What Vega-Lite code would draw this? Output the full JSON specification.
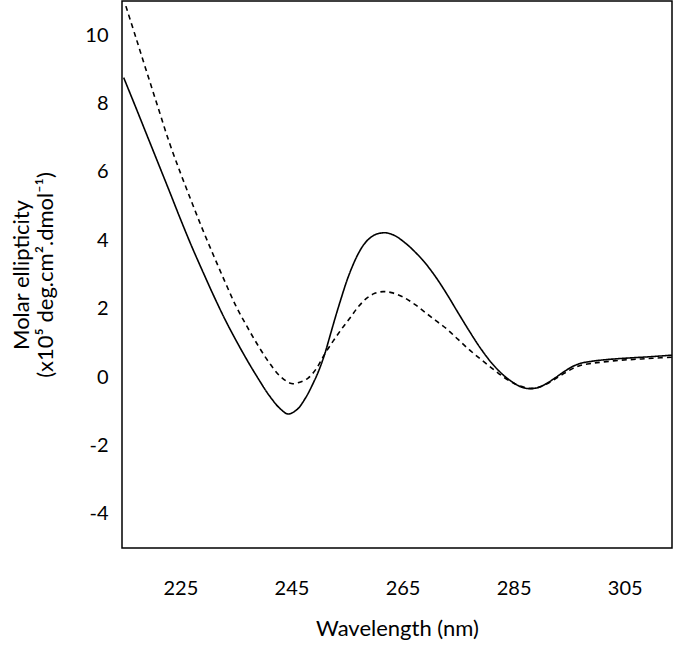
{
  "$schema": "https://vega.github.io/schema/vega-lite/v6.json",
  "width": 550,
  "height": 547,
  "autosize": "none",
  "padding": {"left": 122, "top": 1, "right": 5, "bottom": 100},
  "background": "white",
  "config": {
    "view": {"stroke": "#000000", "strokeWidth": 1.5},
    "font": "Lato",
    "axis": {"grid": false, "domain": false, "ticks": false, "labelColor": "#000000", "titleColor": "#000000", "labelFont": "Lato", "titleFont": "Lato", "labelFontSize": 20, "titleFontSize": 22, "titleFontWeight": "normal"}
  },
  "data": {"values": [
    {"wavelength": 214.8, "ellipticity": 8.76, "sample": "A"},
    {"wavelength": 217, "ellipticity": 7.88, "sample": "A"},
    {"wavelength": 219, "ellipticity": 7.07, "sample": "A"},
    {"wavelength": 221, "ellipticity": 6.26, "sample": "A"},
    {"wavelength": 223, "ellipticity": 5.45, "sample": "A"},
    {"wavelength": 225, "ellipticity": 4.63, "sample": "A"},
    {"wavelength": 227, "ellipticity": 3.84, "sample": "A"},
    {"wavelength": 229, "ellipticity": 3.1, "sample": "A"},
    {"wavelength": 231, "ellipticity": 2.38, "sample": "A"},
    {"wavelength": 233, "ellipticity": 1.7, "sample": "A"},
    {"wavelength": 235, "ellipticity": 1.08, "sample": "A"},
    {"wavelength": 237, "ellipticity": 0.5, "sample": "A"},
    {"wavelength": 239, "ellipticity": -0.04, "sample": "A"},
    {"wavelength": 241, "ellipticity": -0.54, "sample": "A"},
    {"wavelength": 243, "ellipticity": -0.93, "sample": "A"},
    {"wavelength": 244.4, "ellipticity": -1.08, "sample": "A"},
    {"wavelength": 246, "ellipticity": -0.95, "sample": "A"},
    {"wavelength": 247.5, "ellipticity": -0.62, "sample": "A"},
    {"wavelength": 249, "ellipticity": -0.15, "sample": "A"},
    {"wavelength": 250, "ellipticity": 0.22, "sample": "A"},
    {"wavelength": 251, "ellipticity": 0.68, "sample": "A"},
    {"wavelength": 252, "ellipticity": 1.24, "sample": "A"},
    {"wavelength": 253, "ellipticity": 1.8, "sample": "A"},
    {"wavelength": 254, "ellipticity": 2.33, "sample": "A"},
    {"wavelength": 255, "ellipticity": 2.83, "sample": "A"},
    {"wavelength": 256, "ellipticity": 3.25, "sample": "A"},
    {"wavelength": 257, "ellipticity": 3.6, "sample": "A"},
    {"wavelength": 258, "ellipticity": 3.87, "sample": "A"},
    {"wavelength": 259, "ellipticity": 4.05, "sample": "A"},
    {"wavelength": 260, "ellipticity": 4.16, "sample": "A"},
    {"wavelength": 261, "ellipticity": 4.21, "sample": "A"},
    {"wavelength": 262, "ellipticity": 4.22, "sample": "A"},
    {"wavelength": 263, "ellipticity": 4.18, "sample": "A"},
    {"wavelength": 264, "ellipticity": 4.1, "sample": "A"},
    {"wavelength": 265.5, "ellipticity": 3.92, "sample": "A"},
    {"wavelength": 267, "ellipticity": 3.7, "sample": "A"},
    {"wavelength": 269, "ellipticity": 3.35, "sample": "A"},
    {"wavelength": 271, "ellipticity": 2.92, "sample": "A"},
    {"wavelength": 273, "ellipticity": 2.42, "sample": "A"},
    {"wavelength": 275, "ellipticity": 1.88, "sample": "A"},
    {"wavelength": 277, "ellipticity": 1.35, "sample": "A"},
    {"wavelength": 279, "ellipticity": 0.85, "sample": "A"},
    {"wavelength": 281, "ellipticity": 0.42, "sample": "A"},
    {"wavelength": 283, "ellipticity": 0.08, "sample": "A"},
    {"wavelength": 285, "ellipticity": -0.17, "sample": "A"},
    {"wavelength": 286.5, "ellipticity": -0.3, "sample": "A"},
    {"wavelength": 288, "ellipticity": -0.34, "sample": "A"},
    {"wavelength": 289.5, "ellipticity": -0.3, "sample": "A"},
    {"wavelength": 291, "ellipticity": -0.18, "sample": "A"},
    {"wavelength": 292.5, "ellipticity": -0.02, "sample": "A"},
    {"wavelength": 294, "ellipticity": 0.15, "sample": "A"},
    {"wavelength": 295.5, "ellipticity": 0.3, "sample": "A"},
    {"wavelength": 297, "ellipticity": 0.4, "sample": "A"},
    {"wavelength": 299, "ellipticity": 0.46, "sample": "A"},
    {"wavelength": 301, "ellipticity": 0.5, "sample": "A"},
    {"wavelength": 304, "ellipticity": 0.54, "sample": "A"},
    {"wavelength": 307, "ellipticity": 0.57, "sample": "A"},
    {"wavelength": 310, "ellipticity": 0.6, "sample": "A"},
    {"wavelength": 313.5, "ellipticity": 0.64, "sample": "A"},
    {"wavelength": 215.2, "ellipticity": 10.85, "sample": "B"},
    {"wavelength": 217, "ellipticity": 9.93, "sample": "B"},
    {"wavelength": 219, "ellipticity": 8.9, "sample": "B"},
    {"wavelength": 221, "ellipticity": 7.88, "sample": "B"},
    {"wavelength": 223, "ellipticity": 6.87, "sample": "B"},
    {"wavelength": 225, "ellipticity": 5.98, "sample": "B"},
    {"wavelength": 227, "ellipticity": 5.14, "sample": "B"},
    {"wavelength": 229, "ellipticity": 4.32, "sample": "B"},
    {"wavelength": 231, "ellipticity": 3.55, "sample": "B"},
    {"wavelength": 233, "ellipticity": 2.8, "sample": "B"},
    {"wavelength": 235, "ellipticity": 2.08, "sample": "B"},
    {"wavelength": 237, "ellipticity": 1.48, "sample": "B"},
    {"wavelength": 239, "ellipticity": 0.92, "sample": "B"},
    {"wavelength": 241, "ellipticity": 0.42, "sample": "B"},
    {"wavelength": 243, "ellipticity": 0.02, "sample": "B"},
    {"wavelength": 245, "ellipticity": -0.19, "sample": "B"},
    {"wavelength": 246.5, "ellipticity": -0.15, "sample": "B"},
    {"wavelength": 248, "ellipticity": -0.03, "sample": "B"},
    {"wavelength": 249.5, "ellipticity": 0.25, "sample": "B"},
    {"wavelength": 251, "ellipticity": 0.68, "sample": "B"},
    {"wavelength": 252.5, "ellipticity": 1.05, "sample": "B"},
    {"wavelength": 254, "ellipticity": 1.4, "sample": "B"},
    {"wavelength": 255.5, "ellipticity": 1.72, "sample": "B"},
    {"wavelength": 257, "ellipticity": 2.05, "sample": "B"},
    {"wavelength": 258.5, "ellipticity": 2.3, "sample": "B"},
    {"wavelength": 260, "ellipticity": 2.45, "sample": "B"},
    {"wavelength": 261.5, "ellipticity": 2.5, "sample": "B"},
    {"wavelength": 263, "ellipticity": 2.47, "sample": "B"},
    {"wavelength": 265, "ellipticity": 2.35, "sample": "B"},
    {"wavelength": 267, "ellipticity": 2.15, "sample": "B"},
    {"wavelength": 269, "ellipticity": 1.9, "sample": "B"},
    {"wavelength": 271, "ellipticity": 1.65, "sample": "B"},
    {"wavelength": 273, "ellipticity": 1.4, "sample": "B"},
    {"wavelength": 275, "ellipticity": 1.1, "sample": "B"},
    {"wavelength": 277, "ellipticity": 0.8, "sample": "B"},
    {"wavelength": 279, "ellipticity": 0.53, "sample": "B"},
    {"wavelength": 281, "ellipticity": 0.27, "sample": "B"},
    {"wavelength": 283, "ellipticity": 0.02, "sample": "B"},
    {"wavelength": 285, "ellipticity": -0.18, "sample": "B"},
    {"wavelength": 286.5, "ellipticity": -0.28, "sample": "B"},
    {"wavelength": 288, "ellipticity": -0.33, "sample": "B"},
    {"wavelength": 289.5, "ellipticity": -0.3, "sample": "B"},
    {"wavelength": 291, "ellipticity": -0.2, "sample": "B"},
    {"wavelength": 292.5, "ellipticity": -0.05, "sample": "B"},
    {"wavelength": 294, "ellipticity": 0.1, "sample": "B"},
    {"wavelength": 295.5, "ellipticity": 0.24, "sample": "B"},
    {"wavelength": 297, "ellipticity": 0.34, "sample": "B"},
    {"wavelength": 299, "ellipticity": 0.4, "sample": "B"},
    {"wavelength": 301, "ellipticity": 0.44, "sample": "B"},
    {"wavelength": 304, "ellipticity": 0.49, "sample": "B"},
    {"wavelength": 307, "ellipticity": 0.52, "sample": "B"},
    {"wavelength": 310, "ellipticity": 0.55, "sample": "B"},
    {"wavelength": 313.5, "ellipticity": 0.58, "sample": "B"}
  ]},
  "mark": {"type": "line", "interpolate": "catmull-rom", "color": "#000000", "strokeWidth": 1.6, "clip": true},
  "encoding": {
    "x": {
      "field": "wavelength", "type": "quantitative",
      "scale": {"domain": [214.5, 313.5], "nice": false, "zero": false},
      "axis": {"values": [225, 245, 265, 285, 305], "labelPadding": 30, "title": "Wavelength (nm)", "titlePadding": 20}
    },
    "y": {
      "field": "ellipticity", "type": "quantitative",
      "scale": {"domain": [-5, 11], "nice": false, "zero": false},
      "axis": {"values": [-4, -2, 0, 2, 4, 6, 8, 10], "labelExpr": "'' + datum.value", "labelPadding": 14, "title": ["Molar ellipticity", "(x10⁵ deg.cm².dmol⁻¹)"], "titlePadding": 27, "titleLineHeight": 24}
    },
    "strokeDash": {
      "field": "sample", "type": "nominal",
      "scale": {"domain": ["A", "B"], "range": [[1, 0], [5, 4]]},
      "legend": null
    }
  }
}
